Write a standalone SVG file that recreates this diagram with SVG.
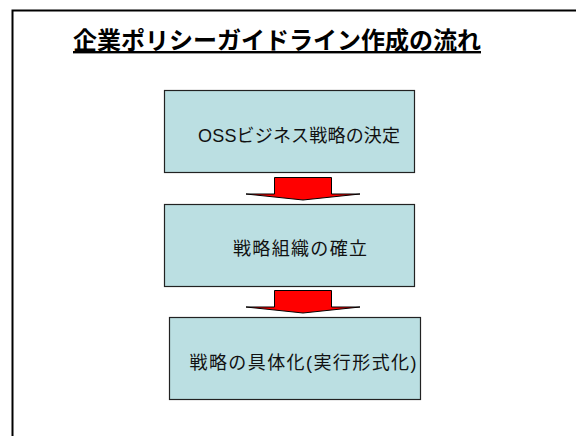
<svg xmlns="http://www.w3.org/2000/svg" width="576" height="436" viewBox="0 0 576 436">
<style>
.box{fill:#BBDFE2;stroke:#222;stroke-width:1.2}
.lbl{font-family:"Liberation Sans","Noto Sans CJK JP",sans-serif;font-size:18px;fill:#111;text-anchor:middle}
.title{font-family:"Liberation Sans","Noto Sans CJK JP",sans-serif;font-size:24px;font-weight:bold;fill:#000;text-anchor:middle;text-decoration:underline}
.arrow{fill:#FF0000;stroke:#000;stroke-width:1;stroke-linejoin:miter}
</style>
<rect x="12.5" y="10.5" width="600" height="460" fill="#fff" stroke="#000" stroke-width="2"/>
<text class="title" x="277" y="49">企業ポリシーガイドライン作成の流れ</text>
<g id="connectors">
<polygon class="arrow" points="274.5,177.5 331.5,177.5 331.5,194 360,194 303,200 246,194 274.5,194"/>
<polygon class="arrow" points="274.5,290.5 331.5,290.5 331.5,307 360,307 303,313 246,307 274.5,307"/>
</g>
<g id="node1">
<rect class="box" x="164.5" y="90.5" width="250" height="82"/>
<text class="lbl" x="299" y="142" textLength="202">OSSビジネス戦略の決定</text>
</g>
<g id="node2">
<rect class="box" x="164.5" y="204.5" width="250" height="82"/>
<text class="lbl" x="300" y="255" textLength="134">戦略組織の確立</text>
</g>
<g id="node3">
<rect class="box" x="169.5" y="317.5" width="251" height="82"/>
<text class="lbl" x="303" y="369" textLength="227">戦略の具体化(実行形式化)</text>
</g>
</svg>
